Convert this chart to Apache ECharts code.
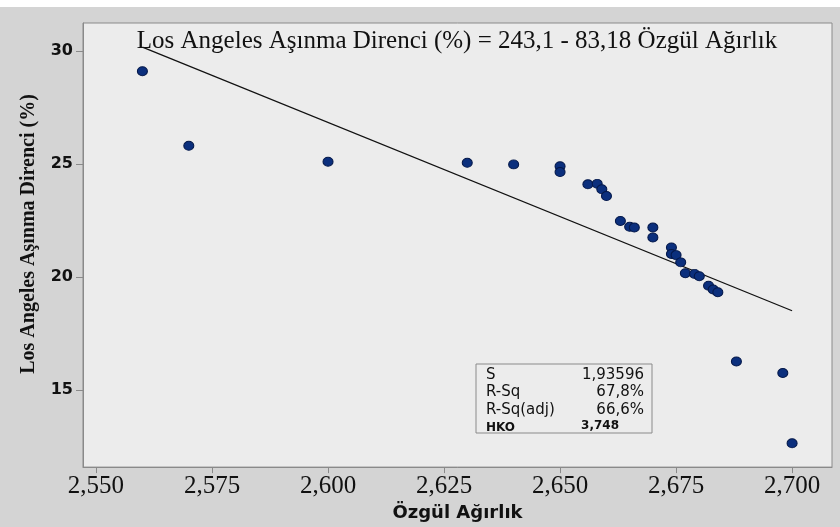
<!DOCTYPE html>
<html>
<head>
<meta charset="utf-8">
<script src="https://cdn.jsdelivr.net/npm/echarts@6/dist/echarts.min.js"></script>
<style>
  html, body { margin: 0; padding: 0; background: #d4d4d4; }
  #chart { width: 840px; height: 527px; }
</style>
</head>
<body>
<div id="chart"></div>
<script>
// ölçülen noktalar (özgül ağırlık, LA aşınma %)
var ozgulAgirlik = [2.560, 2.570, 2.600, 2.630, 2.640, 2.650, 2.650, 2.656, 2.658, 2.659,
                    2.660, 2.663, 2.665, 2.666, 2.670, 2.670, 2.674, 2.674, 2.675, 2.676,
                    2.677, 2.679, 2.680, 2.682, 2.683, 2.684, 2.688, 2.698, 2.700];
var asinma = [29.1, 25.8, 25.1, 25.05, 24.98, 24.9, 24.64, 24.1, 24.12, 23.88,
              23.58, 22.48, 22.22, 22.19, 22.19, 21.75, 21.31, 21.02, 20.97, 20.65,
              20.17, 20.14, 20.04, 19.62, 19.45, 19.33, 16.27, 15.76, 12.65];
// regresyon doğrusu uç noktaları (243,1 - 83,18 x)
var fitX = [2.560, 2.700];
var fitY = [30.16, 18.51];
var xTicks = [2.550, 2.575, 2.600, 2.625, 2.650, 2.675, 2.700];
var yTicks = [15, 20, 25, 30];
var statNames = ['S', 'R-Sq', 'R-Sq(adj)', 'HKO'];
var statValues = ['1,93596', '67,8%', '66,6%', '3,748'];

var pts = ozgulAgirlik.map(function (x, i) { return [x, asinma[i]]; });
var fit = fitX.map(function (x, i) { return [x, fitY[i]]; });

var myChart = echarts.init(document.getElementById('chart'));

// istatistik kutusu
var box = [{
    type: 'rect',
    shape: { x: 476, y: 364, width: 176, height: 69 },
    style: { fill: '#ececec', stroke: '#8a8a8a', lineWidth: 1 }
}];
statNames.forEach(function (n, i) {
    var small = (i === 3);
    var cy = 375 + i * 17.5;
    var f = (small ? 'bold 12px' : '15px') + ' "DejaVu Sans"';
    box.push({
        type: 'text', x: 486, y: cy,
        style: { text: n, fill: '#111', font: f, verticalAlign: 'middle' }
    });
    box.push({
        type: 'text', x: small ? 619 : 644, y: cy - (small ? 2 : 0),
        style: { text: statValues[i], fill: '#111', font: f, align: 'right', verticalAlign: 'middle' }
    });
});
// üstteki beyaz şerit
box.push({ type: 'rect', shape: { x: 0, y: 0, width: 840, height: 7 }, style: { fill: '#ffffff' } });
// y ekseni başlığı
box.push({
    type: 'text', x: 29, y: 234, rotation: Math.PI / 2,
    style: {
        text: 'Los Angeles Aşınma Direnci (%)', fill: '#111',
        font: 'bold 20px "Liberation Serif"', align: 'center', verticalAlign: 'middle'
    }
});

var option = {
    backgroundColor: '#d4d4d4',
    animation: false,
    title: {
        text: 'Los Angeles Aşınma Direnci (%) = 243,1 - 83,18 Özgül Ağırlık',
        left: 452, top: 24, textAlign: 'center',
        textStyle: { fontFamily: 'Liberation Serif', fontWeight: 'normal', fontSize: 25, color: '#111' }
    },
    grid: {
        left: 83, top: 23, right: 8, bottom: 58,
        show: true, backgroundColor: '#ececec', borderColor: '#8a8a8a', borderWidth: 1
    },
    xAxis: {
        type: 'value', min: 2.5472, max: 2.7086,
        name: 'Özgül Ağırlık', nameLocation: 'middle', nameGap: 34,
        nameTextStyle: { fontFamily: 'DejaVu Sans', fontWeight: 'bold', fontSize: 18, color: '#111' },
        axisLine: { show: true, lineStyle: { color: '#8a8a8a' } },
        axisTick: { show: true, length: 6, customValues: xTicks, lineStyle: { color: '#8a8a8a' } },
        axisLabel: {
            customValues: xTicks, margin: 7,
            fontFamily: 'Liberation Serif', fontSize: 25, color: '#111',
            formatter: function (v) { return v.toFixed(3).replace('.', ','); }
        },
        splitLine: { show: false }
    },
    yAxis: {
        type: 'value', min: 11.6, max: 31.23,
        axisLine: { show: true, lineStyle: { color: '#8a8a8a' } },
        axisTick: { show: true, length: 7, customValues: yTicks, lineStyle: { color: '#8a8a8a' } },
        axisLabel: {
            customValues: yTicks, margin: 10,
            fontFamily: 'DejaVu Sans', fontWeight: 'bold', fontSize: 16, color: '#111'
        },
        splitLine: { show: false }
    },
    series: [
        {
            type: 'line', data: fit, symbol: 'none',
            lineStyle: { color: '#111', width: 1.3 }, z: 2
        },
        {
            type: 'scatter', data: pts, symbol: 'circle', symbolSize: [10, 9],
            itemStyle: { color: '#0b2f7d', borderColor: '#04184a', borderWidth: 1, opacity: 1 }, z: 3
        }
    ],
    graphic: box
};
myChart.setOption(option, true);
</script>
</body>
</html>
